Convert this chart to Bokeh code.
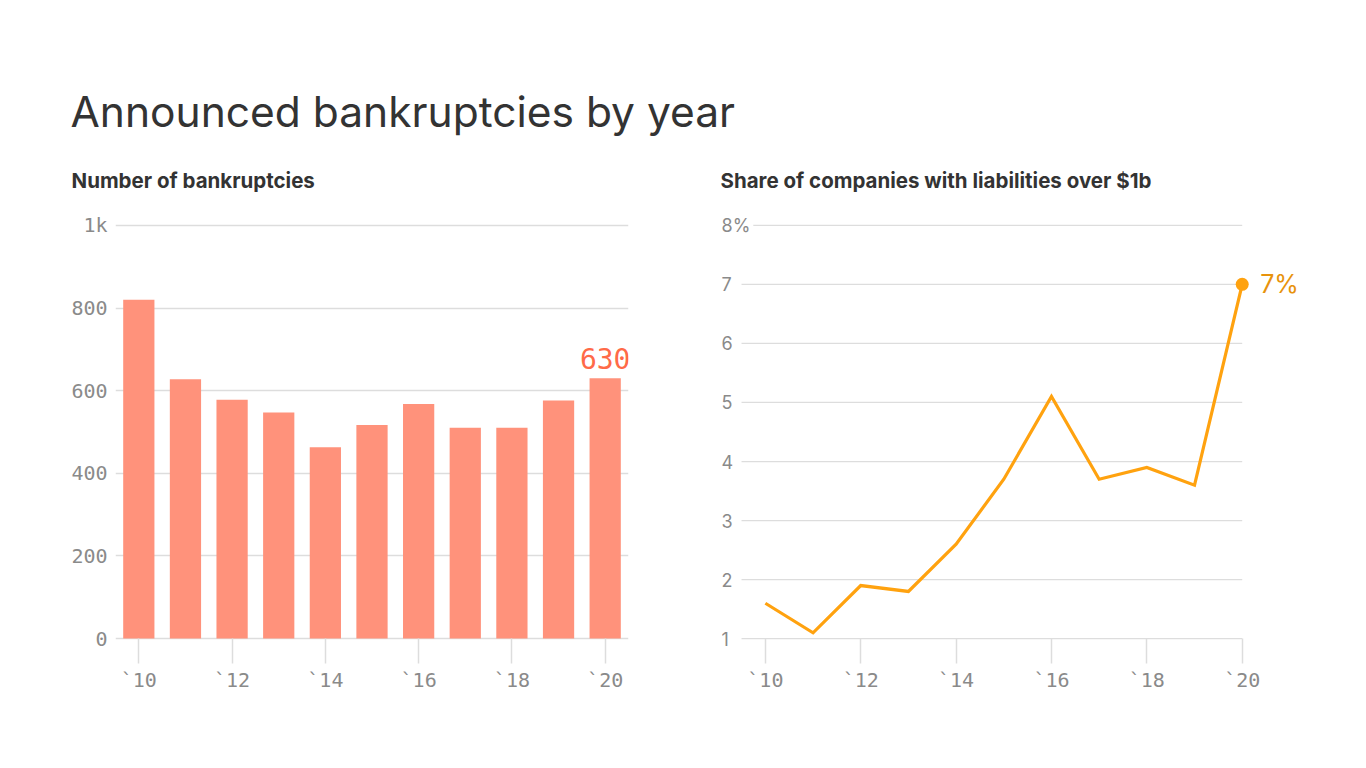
from bokeh.plotting import figure
from bokeh.models import FixedTicker, Title, Range1d
from bokeh.layouts import row, column
from bokeh.embed import file_html
from bokeh.resources import INLINE
from bokeh.core.properties import value

# ---------------- data ----------------
years = [2010, 2011, 2012, 2013, 2014, 2015, 2016, 2017, 2018, 2019, 2020]
bankruptcies = [820, 628, 578, 547, 463, 517, 568, 510, 510, 576, 630]
share_over_1b = [1.6, 1.1, 1.9, 1.8, 2.6, 3.7, 5.1, 3.7, 3.9, 3.6, 7.0]

x_ticks = [2010, 2012, 2014, 2016, 2018, 2020]
x_tick_labels = ["`10", "`12", "`14", "`16", "`18", "`20"]
left_y_ticks = [0, 200, 400, 600, 800, 1000]
left_y_labels = ["0", "200", "400", "600", "800", "1k"]
right_y_ticks = [1, 2, 3, 4, 5, 6, 7, 8]
right_y_labels = ["1", "2", "3", "4", "5", "6", "7", "8%"]

main_title = "Announced bankruptcies by year"
left_subtitle = "Number of bankruptcies"
right_subtitle = "Share of companies with liabilities over $1b"

# ---------------- styles ----------------
BAR = "#ff927b"
BAR_LABEL = "#ff6a48"
LINE = "#ffa20f"
LINE_LABEL = "#e8930c"
GRID = "#dddddd"
TICK_TXT = "#8a8a8a"
TITLE_TXT = "#333333"
MONO = "DejaVu Sans Mono"
SANS = "Inter"

CHART_H = 583
FRAME_TOP = 68
FRAME_BOTTOM = 78
TICK_IN = 12      # frame is padded by this many pixels above/below the value range
TICK_OUT = 13


def base_fig(**kw):
    p = figure(output_backend="svg", toolbar_location=None, height=CHART_H,
               min_border_top=FRAME_TOP, min_border_bottom=FRAME_BOTTOM, **kw)
    p.outline_line_color = None
    p.background_fill_color = "white"
    p.border_fill_color = "white"
    return p


def style_x_axis(p):
    ax = p.xaxis[0]
    ax.ticker = FixedTicker(ticks=x_ticks)
    ax.major_label_overrides = {t: l for t, l in zip(x_ticks, x_tick_labels)}
    ax.axis_line_color = None
    ax.major_tick_line_color = GRID
    ax.major_tick_line_width = 1.5
    ax.major_tick_in = TICK_IN
    ax.major_tick_out = TICK_OUT
    ax.minor_tick_line_color = None
    ax.major_label_standoff = 4
    ax.major_label_text_font = MONO
    ax.major_label_text_font_size = "20px"
    ax.major_label_text_color = TICK_TXT
    p.xgrid.grid_line_color = None


def add_subtitle(p, sub, offset):
    # invisible spacer between frame and subtitle
    p.add_layout(Title(text=" ", align="left", text_font=SANS, text_font_size="14px",
                       standoff=2), "above")
    p.add_layout(Title(text=sub, align="left", offset=offset, text_font=SANS,
                       text_font_size="20.5px", text_font_style="bold",
                       text_color=TITLE_TXT, standoff=0), "above")


# ---------------- header ----------------
header = figure(output_backend="svg", toolbar_location=None, width=1360, height=145,
                x_axis_type=None, y_axis_type=None,
                min_border_left=70, min_border_right=0, min_border_top=136, min_border_bottom=0)
header.outline_line_color = None
header.add_layout(Title(text=main_title, align="left", offset=0, text_font=SANS,
                        text_font_size="42.5px", text_font_style="normal",
                        text_color=TITLE_TXT, standoff=0), "above")

# ---------------- left: bars ----------------
left_pad = 29  # value units equal to TICK_IN pixels
p1 = base_fig(width=680, x_range=Range1d(2009.5, 2020.5),
              y_range=Range1d(left_y_ticks[0] - left_pad, left_y_ticks[-1] + left_pad),
              min_border_left=115, min_border_right=52)

p1.vbar(x=years, top=bankruptcies, bottom=0, width=0.67, fill_color=BAR, line_color=None)
p1.text(x=[years[-1]], y=[bankruptcies[-1]], text=[f"{bankruptcies[-1]}"],
        text_align="center", text_baseline="alphabetic", y_offset=-20,
        text_font=value(MONO), text_font_size="28px", text_color=BAR_LABEL)

style_x_axis(p1)
ay = p1.yaxis[0]
ay.ticker = FixedTicker(ticks=left_y_ticks)
ay.major_label_overrides = {t: l for t, l in zip(left_y_ticks, left_y_labels)}
ay.axis_line_color = None
ay.major_tick_line_color = None
ay.minor_tick_line_color = None
ay.major_label_standoff = 2
ay.major_label_text_font = MONO
ay.major_label_text_font_size = "20px"
ay.major_label_text_color = TICK_TXT
p1.ygrid.ticker = FixedTicker(ticks=left_y_ticks)
p1.ygrid.grid_line_color = GRID
p1.ygrid.grid_line_width = 1.3

add_subtitle(p1, left_subtitle, -44)

# ---------------- right: line ----------------
grid_start = 2009.5
label_start = 2009.08
right_pad = 0.2  # value units equal to TICK_IN pixels
p2 = base_fig(width=680, x_range=Range1d(label_start, 2021.6),
              y_range=Range1d(right_y_ticks[0] - right_pad, right_y_ticks[-1] + right_pad),
              min_border_left=41, min_border_right=42)

n_grid = len(right_y_ticks)
p2.segment(x0=[grid_start] * n_grid, x1=[years[-1]] * n_grid,
           y0=right_y_ticks, y1=right_y_ticks, line_color=GRID, line_width=1.3)
p2.text(x=[label_start] * len(right_y_ticks), y=right_y_ticks, text=right_y_labels,
        text_align="left", text_baseline="middle", x_offset=-3,
        background_fill_color="white", padding=3,
        text_font=value(SANS), text_font_size="18px", text_color=TICK_TXT)
p2.line(years, share_over_1b, line_color=LINE, line_width=3.2, line_join="miter")
p2.scatter(x=[years[-1]], y=[share_over_1b[-1]], size=13, fill_color=LINE, line_color=None)
p2.text(x=[years[-1]], y=[share_over_1b[-1]], text=[f"{share_over_1b[-1]:g}%"],
        x_offset=18, text_align="left", text_baseline="middle",
        text_font=value(SANS), text_font_size="25px", text_color=LINE_LABEL)

style_x_axis(p2)
p2.ygrid.grid_line_color = None
p2.yaxis.visible = False

add_subtitle(p2, right_subtitle, -1)

layout = column(header, row(p1, p2))
open("out.html", "w").write(file_html(layout, INLINE))
